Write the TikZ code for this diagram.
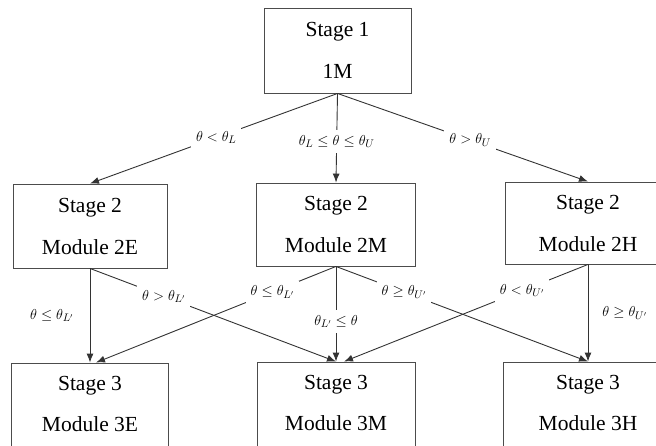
\documentclass[tikz,border=0pt]{standalone}
\usepackage{fontspec}
\setmainfont{Liberation Serif}
\newfontfamily\boxfont{Liberation Serif}
\usetikzlibrary{arrows.meta,calc}
\begin{document}
\begin{tikzpicture}[x=1pt,y=-1pt,
  box/.style={draw=black!70, line width=0.9pt, rectangle, align=center,
    font=\boxfont\fontsize{21.5}{42}\selectfont, inner sep=0pt},
  txt/.style={align=center, font=\boxfont\fontsize{21.5}{41}\selectfont, inner sep=0pt},
  lab/.style={fill=white, inner sep=5pt, font=\fontsize{15}{17}\selectfont},
  side/.style={inner sep=0pt, font=\fontsize{15}{17}\selectfont},
  arr/.style={draw=black!80, line width=0.9pt, -{Latex[length=9pt,width=7pt]}}]
\clip (0,0) rectangle (656,445);
% Stage 1
\node[box, minimum width=147pt, minimum height=85pt] (s1) at (337.5,50.5) {Stage 1\\1M};
% Stage 2
\node[box, minimum width=154pt, minimum height=84pt] (s2e) at (90,226) {Stage 2\\Module 2E};
\node[box, minimum width=159pt, minimum height=83pt] (s2m) at (336,224.5) {Stage 2\\Module 2M};
\node[box, minimum width=166pt, minimum height=82pt] (s2h) at (588,223) {Stage 2\\Module 2H};
% Stage 3 (cut off at bottom)
\node[box, minimum width=157pt, minimum height=100pt] (s3e) at (90,413) {};
\node[box, minimum width=158pt, minimum height=100pt] (s3m) at (336,412) {};
\node[box, minimum width=170pt, minimum height=100pt] (s3h) at (588,412) {};
\node[txt] (t3e) at (90,404) {Stage 3\\Module 3E};
\node[txt] (t3m) at (336,403) {Stage 3\\Module 3M};
\node[txt] (t3h) at (588,403) {Stage 3\\Module 3H};
% Stage 1 -> Stage 2
\draw[arr] (s1.south) -- (s2e.north) node[lab,pos=0.49] {$\theta<\theta_L$};
\draw[arr] (s1.south) -- (s2m.north) node[lab,pos=0.54] {$\theta_L\le\theta\le\theta_U$};
\draw[arr] (s1.south) -- (s2h.north) node[lab,pos=0.53] {$\theta>\theta_U$};
% Stage 2 -> Stage 3
\draw[arr] (s2e.south) -- (s3e.north) node[side,midway,left=16pt] {$\theta\le\theta_{L'}$};
\draw[arr] (s2e.south) -- ($(s3m.north)+(0,0)$) node[lab,pos=0.30] {$\theta>\theta_{L'}$};
\draw[arr] (s2m.south) -- ($(s3e.north)+(6,0)$) node[lab,pos=0.265] {$\theta\le\theta_{L'}$};
\draw[arr] (s2m.south) -- (s3m.north) node[lab,pos=0.58] {$\theta_{L'}\le\theta$};
\draw[arr] (s2m.south) -- (s3h.north) node[lab,pos=0.27] {$\theta\ge\theta_{U'}$};
\draw[arr] (s2h.south) -- ($(s3m.north)+(8,0)$) node[lab,pos=0.27] {$\theta<\theta_{U'}$};
\draw[arr] (s2h.south) -- (s3h.north) node[side,midway,right=14pt] {$\theta\ge\theta_{U'}$};
\end{tikzpicture}
\end{document}
